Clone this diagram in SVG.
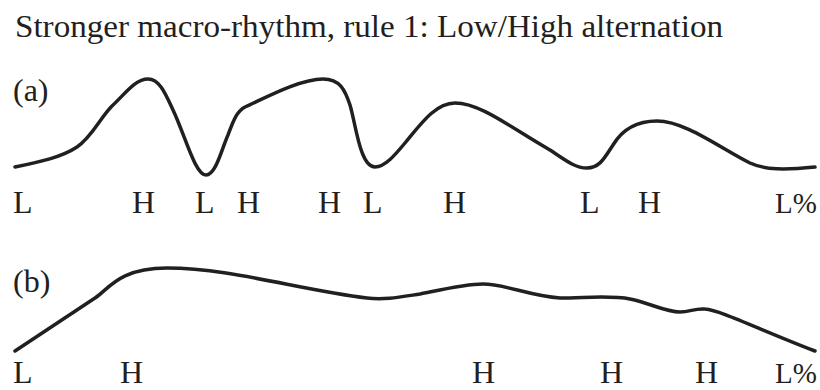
<svg xmlns="http://www.w3.org/2000/svg" width="820" height="390" viewBox="0 0 820 390">
<style>
text{font-family:"Liberation Serif","DejaVu Serif",serif;fill:#231f20;font-size:32px}
.c{fill:none;stroke:#231f20;stroke-width:3.5;stroke-linecap:round;stroke-linejoin:round}
.lp{font-size:29px}
</style>
<rect width="820" height="390" fill="#fff"/>
<g id="title"><text x="15" y="37" textLength="708" lengthAdjust="spacingAndGlyphs">Stronger macro-rhythm, rule 1: Low/High alternation</text></g>
<g id="panel-a">
<text x="13" y="101">(a)</text>
<path class="c" d="M15,167 C40,162 62,157 77,147 C92,137 100,118 112,106 C125,94 135,79 148,79 C160,79 166,95 173,110 C185,135 195,175 206,175 C216,175 222,148 228,135 C233,122 236,112 245,107 C265,98 300,79 323,79 C340,79 345,90 350,105 C356,125 360,167 375,167 C385,167 395,155 405,143 C420,125 435,103 455,103 C480,103 510,127 550,150 C565,160 575,168 587,168 C600,168 605,157 613,145 C622,130 635,121 657,121 C685,121 720,148 750,163 C765,170 785,170 815,167"/>
<text x="13" y="213">L</text>
<text x="132" y="213">H</text>
<text x="195" y="213">L</text>
<text x="237" y="213">H</text>
<text x="318" y="213">H</text>
<text x="363" y="213">L</text>
<text x="443" y="213">H</text>
<text x="580" y="213">L</text>
<text x="638" y="213">H</text>
<text class="lp" x="775" y="213">L%</text>
</g>
<g id="panel-b">
<text x="13" y="292">(b)</text>
<path class="c" d="M15,351 L95,298 C108,290 118,268 167,268 C230,268 300,290 367,298 C385,300 400,297 420,294 C440,290 465,284 483,284 C505,284 530,296 560,298 C585,298 610,295 630,299 C650,303 665,312 680,312 C690,312 695,308 705,309 C720,310 760,330 815,351"/>
<text x="13" y="383">L</text>
<text x="120" y="383">H</text>
<text x="472" y="383">H</text>
<text x="600" y="383">H</text>
<text x="695" y="383">H</text>
<text class="lp" x="775" y="383">L%</text>
</g>
</svg>
